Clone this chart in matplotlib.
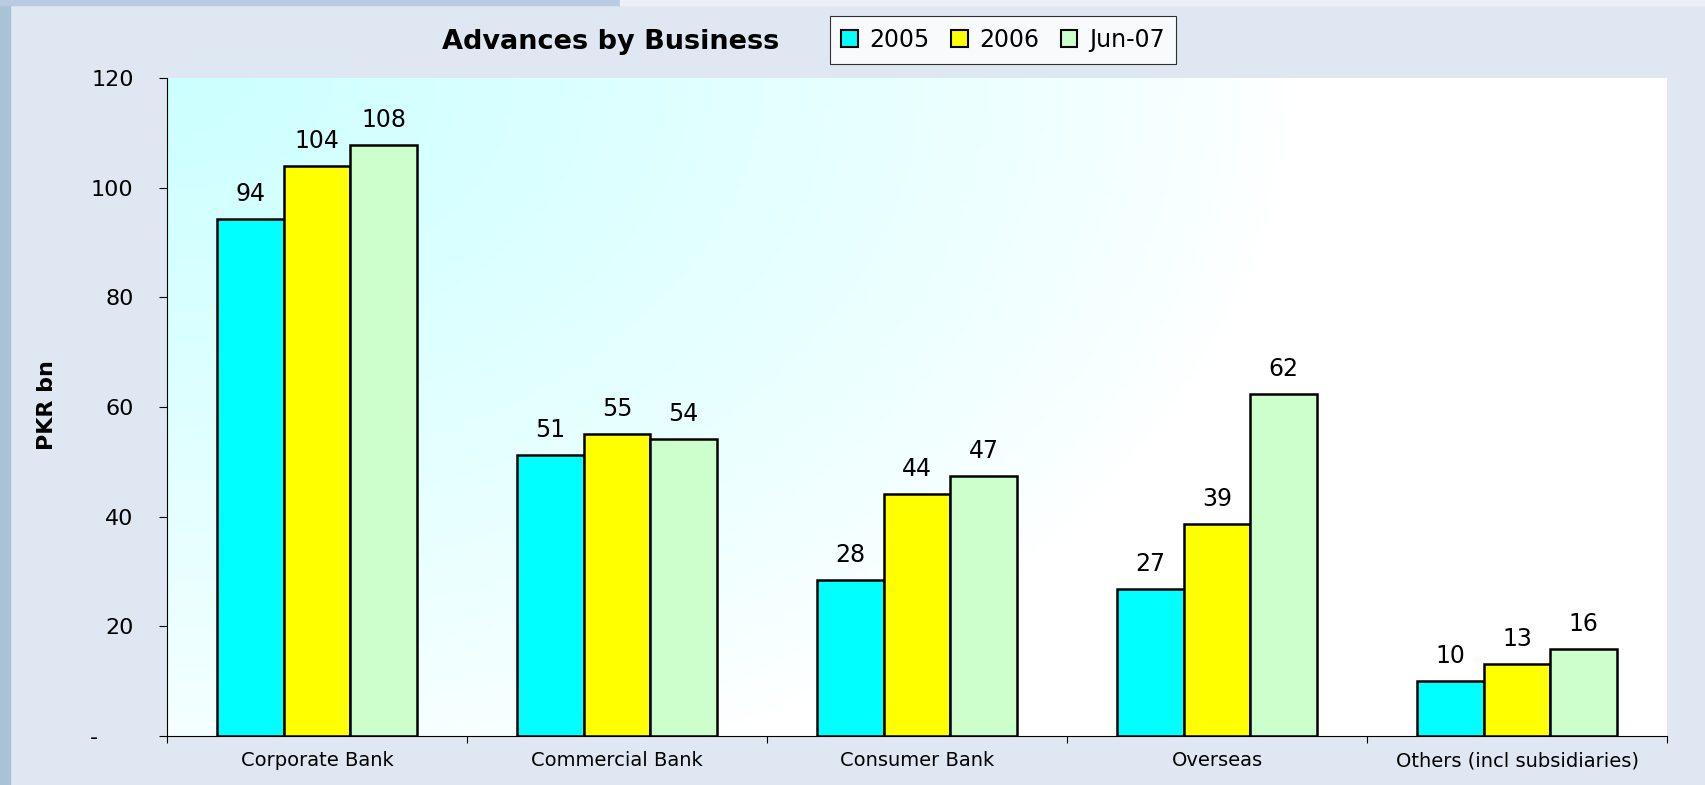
import numpy as np
import matplotlib
matplotlib.use("Agg")
import matplotlib.pyplot as plt
from matplotlib.patches import Patch, Rectangle

categories = ["Corporate Bank", "Commercial Bank", "Consumer Bank", "Overseas", "Others (incl subsidiaries)"]
series = ["2005", "2006", "Jun-07"]
v2005 = [94.2, 51.3, 28.4, 26.8, 10.0]
v2006 = [103.9, 55.0, 44.1, 38.6, 13.1]
vjun07 = [107.8, 54.2, 47.4, 62.4, 15.9]
yticks = [0, 20, 40, 60, 80, 100, 120]
ytick_labels = ["-     ", "20", "40", "60", "80", "100", "120"]

colors = ["#00ffff", "#ffff00", "#ccffcc"]

fig = plt.figure(figsize=(17.06, 7.85), dpi=100)
fig.patch.set_facecolor("#dfe7f2")
# slide decoration: left strip and top band
fig.patches.append(Rectangle((0, 0), 10 / 1706, 1, transform=fig.transFigure, color="#a9c3d6", zorder=0))
fig.patches.append(Rectangle((0, 1 - 5 / 785), 620 / 1706, 5 / 785, transform=fig.transFigure, color="#b9cbe0", zorder=0))
fig.patches.append(Rectangle((620 / 1706, 1 - 5 / 785), 1, 5 / 785, transform=fig.transFigure, color="#eceff7", zorder=0))

ax = fig.add_axes([167 / 1706, 1 - 736 / 785, 1500 / 1706, 658 / 785])
ax.set_facecolor("none")

# plot area gradient, cyan in the top-left corner fading to white
u = np.linspace(0, 1, 300)
v = np.linspace(0, 1, 150)
U, V = np.meshgrid(u, v)
c = np.clip(1 - np.sqrt((U / 0.75) ** 2 + (V / 1.15) ** 2), 0, 1) ** 0.8
img = np.ones((150, 300, 3))
img[..., 0] = 1 - (51 / 255) * c
ax.imshow(img, extent=[-0.5, 4.5, 0, 120], aspect="auto", origin="upper", zorder=0)

x = np.arange(len(categories))
w = 2 / 9
for i, (vals, col) in enumerate(zip([v2005, v2006, vjun07], colors)):
    bars = ax.bar(x + (i - 1) * w, vals, width=w, color=col, edgecolor="black", linewidth=1.8, zorder=2)
    for b, val in zip(bars, vals):
        ax.annotate(f"{val:.0f}", (b.get_x() + b.get_width() / 2, b.get_height()),
                    xytext=(0, 13), textcoords="offset points", ha="center", va="baseline",
                    fontsize=17, color="black")

ax.set_xlim(-0.5, 4.5)
ax.set_ylim(0, 120)
ax.set_yticks(yticks)
ax.set_yticklabels(ytick_labels, fontsize=16)
ax.tick_params(axis="y", length=6, width=0.8, pad=18, direction="out")
ax.set_xticks(x)
ax.set_xticklabels(categories, fontsize=14)
ax.set_xticks(np.arange(-0.5, 5, 1), minor=True)
ax.tick_params(axis="x", which="major", length=0, pad=11)
ax.tick_params(axis="x", which="minor", length=5, width=0.8, direction="out")
for s in ["top", "right"]:
    ax.spines[s].set_visible(False)
for s in ["left", "bottom"]:
    ax.spines[s].set_linewidth(0.8)
    ax.spines[s].set_zorder(3)

fig.text(47 / 1706, 1 - 405 / 785, "PKR bn", rotation=90, ha="center", va="center",
         fontsize=16, fontweight="bold")
fig.text(611 / 1706, 1 - 42 / 785, "Advances by Business", ha="center", va="center",
         fontsize=19.5, fontweight="bold")

handles = [Patch(facecolor=col, edgecolor="black", linewidth=1.5) for col in colors]
leg = fig.legend(handles, series, loc="center", bbox_to_anchor=(1003 / 1706, 1 - 40 / 785),
                 ncol=3, fontsize=17, frameon=True, fancybox=False, edgecolor="black",
                 handlelength=0.7, handleheight=0.7, handletextpad=0.5, columnspacing=0.9,
                 borderpad=0.5, borderaxespad=0)
leg.get_frame().set_linewidth(0.8)
leg.get_frame().set_facecolor("white")

fig.savefig("out.png", dpi=100, facecolor=fig.get_facecolor())
